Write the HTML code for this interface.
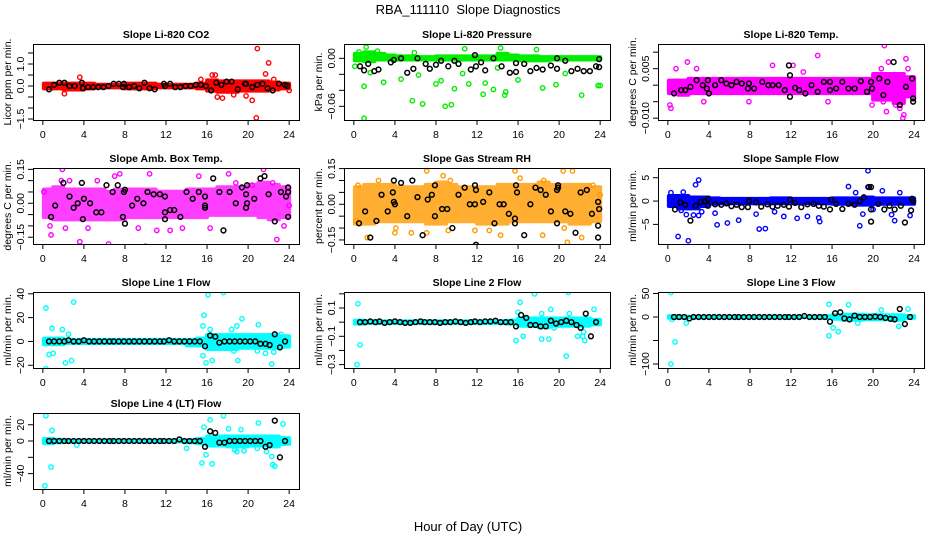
<!DOCTYPE html>
<html><head><meta charset="utf-8"><style>
html,body{margin:0;padding:0;background:#fff;}
svg{display:block;font-family:"Liberation Sans",Arial,sans-serif;}
</style></head><body>
<svg id="chart" width="936" height="540" viewBox="0 0 936 540" xmlns="http://www.w3.org/2000/svg">
<text x="468" y="14" text-anchor="middle" font-size="13">RBA_111110&#160; Slope Diagnostics</text>
<text x="468" y="531" text-anchor="middle" font-size="13">Hour of Day (UTC)</text>
</svg>
<script>
const xTicks=[0,4,8,12,16,20,24];
const hourGrid=[0.6,1.1,1.6,2.1,2.5,3.0,3.5,4.0,4.5,5.0,5.5,6.0,6.5,6.9,7.4,7.9,8.4,8.9,9.4,9.9,10.4,10.9,11.4,11.8,12.3,12.8,13.3,13.8,14.3,14.8,15.3,15.8,16.3,16.8,17.2,17.7,18.2,18.7,19.2,19.7,20.2,20.7,21.2,21.7,22.1,22.6,23.1,23.6];

const co2BandHi=[0.2,0.2,0.2,0.2,0.2,0.15,0.15,0.15,0.2,0.2,0.2,0.15,0.15,0.15,0.15,0.2,0.35,0.3,0.3,0.3,0.3,0.3,0.25,0.2];
const co2BandLo=[-0.2,-0.2,-0.25,-0.25,-0.2,-0.15,-0.15,-0.15,-0.2,-0.2,-0.2,-0.15,-0.15,-0.15,-0.15,-0.2,-0.3,-0.35,-0.35,-0.3,-0.3,-0.3,-0.25,-0.2];
const co2Out=[[2.1,-0.35],[3.6,0.4],[15.4,0.3],[16.5,0.5],[16.8,0.5],[17.0,-0.5],[17.5,-0.55],[18.6,-0.4],[19.8,-0.45],[20.4,-0.65],[20.8,-1.45],[20.9,1.7],[21.7,0.55],[22.0,1.05],[22.5,0.3],[24.0,-0.2]];
const co2Black=[[0.6,-0.15],[1.1,0.05],[1.6,0.15],[2.1,0.15],[2.6,0.0],[3.1,0.0],[3.8,0.15],[3.9,-0.1],[4.4,-0.05],[4.9,-0.05],[5.4,-0.05],[5.9,-0.05],[6.4,0.0],[6.9,0.1],[7.4,0.1],[7.8,-0.05],[7.9,0.1],[8.4,-0.05],[8.9,0.0],[9.4,-0.1],[9.9,0.15],[10.4,-0.1],[10.9,-0.15],[11.8,0.1],[11.9,0.0],[12.4,0.1],[12.9,-0.05],[13.4,-0.05],[13.9,0.0],[14.4,0.0],[14.9,0.05],[15.4,0.05],[15.9,0.0],[16.4,-0.2],[16.9,0.15],[17.4,0.05],[17.9,0.2],[18.4,0.2],[19.0,-0.15],[19.7,0.1],[19.8,0.1],[20.4,-0.05],[20.9,0.05],[21.4,0.1],[21.9,-0.1],[22.4,-0.2],[23.0,0.1],[23.6,0.05],[23.8,0.0]];

const presBandHi=[0.008,0.01,0.008,0.006,0.005,0.005,0.004,0.004,0.005,0.005,0.005,0.005,0.005,0.005,0.008,0.006,0.005,0.005,0.004,0.004,0.004,0.004,0.004,0.004];
const presBandLo=[-0.005,-0.006,-0.004,-0.004,-0.004,-0.004,-0.004,-0.004,-0.004,-0.004,-0.004,-0.004,-0.004,-0.004,-0.004,-0.004,-0.005,-0.005,-0.005,-0.004,-0.004,-0.004,-0.004,-0.004];
const presOut=[[0.1,-0.01],[1.0,-0.035],[1.0,-0.075],[1.6,-0.018],[2.9,-0.03],[4.6,-0.026],[5.7,-0.053],[6.3,-0.021],[6.7,-0.057],[8.0,-0.032],[8.5,-0.028],[8.9,-0.06],[9.5,-0.058],[9.8,-0.038],[10.6,-0.019],[11.2,-0.032],[12.6,-0.045],[12.8,-0.031],[13.6,-0.039],[14.0,-0.012],[14.7,-0.046],[14.8,-0.042],[16.0,-0.027],[18.4,-0.037],[19.7,-0.033],[20.6,-0.019],[22.2,-0.046],[23.8,-0.034],[24.0,-0.034],[0.5,0.008],[2.3,0.009],[5.9,0.007],[10.8,0.012],[14.3,0.013],[17.8,0.011],[1.2,0.014]];
const presBlack=[[0.6,-0.01],[1.0,-0.015],[1.4,-0.007],[2.0,-0.016],[2.4,-0.014],[3.6,-0.005],[3.9,-0.002],[4.6,0.0],[5.2,-0.018],[5.8,-0.013],[6.2,0.0],[7.0,-0.007],[7.4,-0.013],[8.0,-0.008],[8.5,-0.003],[9.2,-0.01],[9.8,-0.003],[10.2,-0.007],[11.4,-0.014],[11.8,0.004],[11.9,-0.01],[12.4,-0.005],[12.8,-0.015],[13.6,0.0],[14.4,-0.01],[15.2,-0.018],[15.8,-0.017],[15.8,-0.006],[16.6,-0.007],[17.2,-0.016],[17.8,-0.012],[18.4,-0.014],[19.2,-0.009],[19.8,-0.013],[19.8,0.0],[20.6,-0.003],[21.2,-0.016],[21.8,-0.013],[22.4,-0.016],[23.0,-0.016],[23.6,-0.01],[23.9,-0.001],[23.9,-0.011]];

const tempBandHi=[0.002,0.002,0.0025,0.0025,0.0025,0.0025,0.0025,0.0025,0.0025,0.0025,0.0025,0.0025,0.0025,0.0025,0.0025,0.0025,0.0025,0.0025,0.0025,0.0025,0.004,0.004,0.004,0.003];
const tempBandLo=[-0.003,-0.0035,-0.003,-0.003,-0.003,-0.003,-0.003,-0.003,-0.003,-0.003,-0.003,-0.003,-0.003,-0.003,-0.003,-0.003,-0.003,-0.003,-0.003,-0.003,-0.005,-0.005,-0.006,-0.004];
const tempOut=[[0.2,-0.006],[0.3,-0.007],[0.8,0.005],[1.9,0.007],[2.8,0.005],[3.5,-0.005],[7.9,-0.005],[10.2,0.006],[12.2,0.006],[13.2,0.004],[14.6,0.009],[15.6,-0.005],[19.9,-0.006],[20.8,0.005],[21.1,0.012],[21.3,-0.008],[21.5,0.007],[22.2,-0.006],[22.6,-0.007],[22.9,-0.01],[23.0,-0.009],[23.2,0.008],[23.4,0.005],[21.0,-0.005]];
const tempBlack=[[0.6,-0.0025],[1.3,-0.0015],[1.7,-0.0015],[2.2,-0.0005],[2.8,0.0015],[3.4,0.0],[3.8,-0.001],[3.9,0.0015],[4.0,-0.0025],[4.6,0.0],[5.2,0.0015],[5.7,0.0005],[6.2,0.0],[6.7,0.001],[7.2,0.0005],[7.8,-0.001],[7.9,0.0005],[8.4,-0.001],[9.2,0.001],[9.8,0.0],[10.2,0.0],[10.8,0.0],[11.4,-0.0015],[11.8,0.006],[11.9,-0.0035],[11.9,0.003],[12.4,-0.0008],[12.8,-0.0015],[13.4,-0.0025],[14.0,0.0],[14.6,-0.002],[15.2,0.001],[15.8,-0.0015],[15.8,0.001],[16.4,-0.001],[17.0,0.001],[17.6,-0.001],[18.2,-0.001],[18.8,0.0012],[19.4,-0.002],[19.8,0.001],[19.9,-0.001],[20.6,0.002],[21.0,-0.003],[21.4,0.001],[22.0,0.007],[22.6,-0.006],[23.2,-0.0005],[23.8,0.002],[23.9,-0.004],[23.9,-0.005]];

const ambBandHi=[0.07,0.08,0.07,0.07,0.07,0.07,0.06,0.07,0.07,0.07,0.07,0.06,0.06,0.06,0.07,0.07,0.07,0.08,0.08,0.08,0.09,0.1,0.09,0.08];
const ambBandLo=[-0.07,-0.08,-0.08,-0.08,-0.08,-0.08,-0.08,-0.08,-0.07,-0.07,-0.07,-0.07,-0.07,-0.07,-0.07,-0.07,-0.06,-0.06,-0.06,-0.06,-0.06,-0.07,-0.08,-0.07];
const ambOut=[[0.7,-0.1],[0.8,-0.14],[1.8,0.1],[1.9,0.15],[2.2,-0.11],[3.6,-0.17],[4.4,-0.11],[5.3,0.1],[5.6,-0.2],[6.4,-0.18],[7.0,0.12],[7.2,-0.24],[7.5,0.13],[9.3,-0.11],[10.0,-0.19],[10.4,0.13],[11.1,-0.12],[12.4,-0.12],[13.6,-0.11],[15.2,0.12],[16.3,-0.11],[18.1,0.13],[18.8,0.09],[20.4,0.08],[21.5,0.15],[22.4,0.09],[22.8,-0.16],[23.5,-0.1],[24.0,-0.01],[0.1,0.05],[2.6,0.1]];
const ambBlack=[[0.8,-0.06],[1.2,-0.01],[2.0,0.09],[2.6,0.03],[3.0,-0.02],[3.4,0.0],[3.8,0.09],[3.9,-0.07],[4.0,0.02],[4.6,0.0],[5.2,-0.04],[5.7,-0.04],[6.2,0.08],[6.8,0.05],[7.3,0.08],[7.8,-0.06],[7.9,0.05],[8.0,0.06],[8.0,-0.09],[8.7,-0.01],[9.2,0.02],[9.8,0.0],[10.2,0.05],[10.8,0.04],[11.4,0.04],[11.9,0.03],[11.9,-0.04],[11.9,-0.07],[12.4,-0.03],[12.8,-0.03],[13.4,-0.06],[14.0,0.05],[14.6,0.02],[15.2,0.05],[15.8,0.03],[15.8,-0.01],[15.8,-0.02],[16.6,0.11],[17.2,0.05],[17.6,-0.12],[18.2,0.05],[18.8,0.0],[19.4,0.07],[19.9,0.08],[19.8,0.04],[19.9,0.0],[19.8,-0.02],[20.6,0.02],[21.2,0.11],[21.6,0.12],[22.0,0.04],[22.6,-0.08],[23.2,0.05],[23.7,0.03],[23.9,0.07],[23.9,-0.06],[23.9,0.05]];

const rhBandHi=[0.08,0.09,0.09,0.09,0.08,0.08,0.08,0.09,0.1,0.09,0.08,0.08,0.08,0.08,0.09,0.09,0.09,0.09,0.1,0.09,0.09,0.09,0.09,0.08];
const rhBandLo=[-0.09,-0.09,-0.08,-0.08,-0.08,-0.08,-0.08,-0.09,-0.09,-0.08,-0.08,-0.08,-0.09,-0.09,-0.09,-0.08,-0.08,-0.08,-0.08,-0.08,-0.08,-0.09,-0.09,-0.08];
const rhOut=[[1.3,-0.14],[2.4,0.1],[4.0,-0.12],[4.1,-0.1],[5.6,-0.12],[7.1,0.14],[7.1,-0.12],[8.7,0.12],[9.4,0.1],[9.2,-0.11],[11.8,-0.11],[13.2,-0.11],[14.3,-0.13],[15.7,0.14],[16.2,0.11],[18.4,-0.13],[18.5,0.1],[20.4,0.14],[20.5,-0.1],[20.8,-0.16],[21.3,0.14],[22.2,-0.14],[23.3,0.08],[24.0,0.04],[0.2,-0.07],[0.4,0.08]];
const rhBlack=[[0.5,-0.08],[1.1,-0.03],[1.6,-0.14],[2.2,-0.07],[2.7,0.04],[3.3,-0.03],[3.8,0.05],[3.9,0.01],[4.0,0.0],[3.9,0.1],[4.6,0.09],[5.2,-0.05],[5.7,0.1],[6.2,0.03],[6.7,-0.13],[7.2,0.02],[7.6,0.04],[7.9,-0.05],[7.9,0.08],[8.6,-0.02],[9.1,-0.02],[9.6,-0.1],[10.2,0.04],[10.8,0.07],[11.3,0.0],[11.8,0.08],[11.8,0.0],[11.9,0.06],[11.9,-0.17],[12.6,0.01],[13.2,0.05],[13.7,-0.08],[14.2,0.0],[14.6,0.0],[15.1,-0.04],[15.7,-0.06],[15.7,-0.08],[15.8,0.08],[15.9,0.05],[16.6,-0.13],[17.2,0.0],[17.7,0.07],[18.2,0.06],[18.7,0.04],[19.2,-0.03],[19.8,0.06],[19.9,0.07],[19.9,0.08],[19.8,-0.08],[20.6,-0.03],[21.1,-0.04],[21.6,-0.12],[22.1,0.05],[22.7,0.06],[23.2,-0.04],[23.8,0.01],[23.8,-0.09],[23.8,-0.14],[23.9,-0.02]];

const flowBandHi=[1.5,1.5,1.2,1.2,1.0,0.9,0.9,0.9,0.9,0.9,1.0,1.0,0.9,0.9,0.9,0.9,1.0,1.0,1.0,1.2,1.0,1.0,1.0,1.0];
const flowBandLo=[-1.5,-2.0,-2.0,-1.5,-1.0,-0.9,-0.9,-0.9,-0.9,-0.9,-0.9,-0.9,-0.9,-0.9,-0.9,-0.9,-1.0,-1.0,-1.2,-1.2,-1.0,-1.0,-1.0,-1.0];
const flowOut=[[0.3,1.8],[1.0,-7.6],[1.3,-2.0],[1.5,1.9],[1.8,-2.9],[2.0,-8.5],[2.5,-3.0],[2.7,3.5],[3.0,4.5],[3.0,-3.1],[3.3,-2.3],[4.6,-2.6],[4.8,-5.1],[5.8,-4.7],[6.9,-4.1],[8.6,-2.8],[8.9,-6.0],[9.5,-5.9],[10.4,-2.3],[11.3,-3.3],[12.6,-3.7],[13.6,-3.3],[14.7,-3.6],[14.8,-4.4],[17.6,3.1],[18.3,1.8],[18.7,-5.3],[19.0,-2.8],[19.5,6.5],[19.5,3.0],[20.0,-1.8],[20.9,2.2],[21.8,-2.9],[22.1,-4.2],[22.6,1.8],[23.6,-3.1]];
const flowBlack=[[0.7,-1.8],[1.2,-0.3],[1.7,-0.8],[2.2,-4.2],[2.7,-1.0],[3.2,-0.2],[3.6,0.0],[3.9,-1.0],[3.9,0.4],[4.6,-0.7],[5.2,-0.8],[5.7,-0.5],[6.2,-1.1],[6.7,-0.8],[7.2,-1.3],[7.8,-1.3],[7.9,0.0],[8.6,-0.3],[9.1,-1.2],[9.7,-0.7],[10.2,-1.2],[10.7,-1.0],[11.3,-0.8],[11.8,-1.2],[11.9,0.3],[12.4,-0.4],[13.0,-1.3],[13.6,-0.7],[14.2,-0.6],[14.7,-1.0],[15.2,-1.2],[15.8,-1.8],[15.9,0.3],[16.4,-0.6],[17.0,-1.7],[17.6,-0.6],[18.2,-0.8],[18.7,0.0],[19.1,0.8],[19.6,3.0],[19.8,3.0],[19.8,-1.8],[19.8,-4.4],[20.5,-0.6],[21.1,-1.8],[21.6,-1.0],[22.1,-1.8],[22.7,-1.0],[23.1,-4.6],[23.7,-2.0],[23.8,0.5],[23.9,0.0]];

const line1BandHi=[4,4,3,3,3,3,3,3,3,3,3,3,3,3,3,4,7,7,7,7,7,7,7,6];
const line1BandLo=[-4,-4,-3,-3,-3,-3,-3,-3,-3,-3,-3,-3,-3,-3,-5,-5,-8,-8,-8,-7,-7,-7,-7,-6];
const line1Out=[[0.3,28],[0.3,-23],[0.6,-11],[0.9,11],[1.0,-10],[1.9,10],[2.2,-18],[2.5,6],[2.8,-16],[3.0,33],[15.7,22],[15.6,13],[15.6,-12],[15.9,-18],[16.1,39],[16.3,10],[16.5,-16],[17.6,41],[18.4,10],[18.6,-8],[18.9,13],[19.0,-16],[19.4,19],[19.8,-4],[20.9,-8],[21.0,14],[21.7,-10],[22.3,-19],[22.5,-9],[23.2,6]];
const line1Black=[0,0,0,0,1,0,0,1,0,0,0,0,0,0,0,0,0,0,0,0,0,0,0,0,1,0,0,0,0,0,0,-4,5,4,-1,0,0,0,0,0,0,0,-2,-2,-3,6,-5,0];

const line2BandHi=[0.025,0.02,0.02,0.02,0.02,0.02,0.02,0.02,0.02,0.02,0.02,0.02,0.02,0.02,0.02,0.025,0.04,0.04,0.04,0.04,0.04,0.04,0.04,0.03];
const line2BandLo=[-0.025,-0.02,-0.02,-0.02,-0.02,-0.02,-0.02,-0.02,-0.02,-0.02,-0.02,-0.02,-0.02,-0.02,-0.02,-0.025,-0.04,-0.04,-0.05,-0.04,-0.04,-0.04,-0.04,-0.03];
const line2Out=[[0.3,-0.3],[0.4,0.13],[0.6,-0.16],[15.8,-0.13],[16.2,0.14],[16.5,-0.1],[17.6,0.2],[18.3,0.06],[18.3,-0.12],[19.2,0.09],[19.0,-0.12],[20.7,-0.24],[20.9,0.21],[21.0,0.06],[21.8,-0.1],[22.3,-0.1],[22.4,-0.07],[22.5,-0.13],[23.4,0.09],[16.0,0.07],[19.5,-0.04]];
const line2Black=[0.0,0.0,0.005,0.0,0.005,-0.005,0.0,0.005,0.0,-0.005,-0.005,0.0,0.005,0.0,0.0,0.0,-0.005,0.0,0.0,0.005,0.0,-0.005,0.0,0.005,0.0,0.005,0.005,0.01,0.0,0.0,0.0,-0.03,0.05,0.03,-0.02,-0.02,-0.03,-0.03,0.01,-0.01,0.0,0.01,0.0,-0.02,-0.04,0.06,-0.1,0.0];

const line3BandHi=[6,5,4,4,4,4,4,4,4,4,4,4,4,4,4,6,8,9,9,8,8,8,8,6];
const line3BandLo=[-6,-5,-4,-4,-4,-4,-4,-4,-4,-4,-4,-4,-4,-4,-4,-6,-8,-10,-10,-9,-9,-9,-10,-6];
const line3Out=[[0.3,52],[0.3,-100],[0.7,-53],[1.8,-13],[15.7,27],[15.7,-40],[16.1,-23],[16.6,-31],[17.6,26],[20.8,15],[22.5,-20],[23.4,17],[18.5,-13],[0.4,-5]];
const line3Black=[0,0,0,-3,0,0,0,0,0,0,0,0,0,0,0,0,0,0,0,0,0,0,0,0,0,0,2,0,0,0,0,-10,8,10,-3,-5,3,0,0,0,1,0,-2,-4,-5,17,-15,0];

const line4BandHi=[5,4,3,3,3,3,3,3,3,3,3,3,3,3,3,5,8,8,8,8,8,8,8,6];
const line4BandLo=[-5,-4,-3,-3,-3,-3,-3,-3,-3,-3,-3,-3,-3,-3,-4,-5,-8,-8,-9,-9,-8,-8,-9,-6];
const line4Out=[[0.3,31],[0.2,-55],[0.8,-32],[0.9,13],[15.5,-27],[15.7,17],[15.9,-17],[16.3,26],[16.5,-28],[17.6,31],[18.1,15],[18.7,-11],[18.9,-13],[19.3,14],[19.6,-12],[20.9,-9],[21.0,22],[21.8,-13],[22.3,-19],[22.4,-29],[22.6,-31],[23.4,21],[3.3,-5],[14.0,-9]];
const line4Black=[0,0,0,0,0,0,0,0,0,0,0,0,0,0,0,0,0,0,0,0,0,0,0,0,0,0,2,0,0,0,0,-7,12,10,-2,-2,0,0,0,0,0,0,0,-7,-5,25,-20,0];

const NS="http://www.w3.org/2000/svg";
const svg=document.getElementById('chart');
function mk(tag,attrs,parent){const e=document.createElementNS(NS,tag);for(const k in attrs)e.setAttribute(k,attrs[k]);(parent||svg).appendChild(e);return e;}
function gridPairs(vals){return vals.map((v,i)=>[hourGrid[i],v]);}

const panels=[
 {key:'co2',title:'Slope Li-820 CO2',ylab:'Licor ppm per min.',col:0,row:0,y0:1.91,y1:-1.545,ticks:[-1.5,-1,-0.5,0,0.5,1,1.5],labels:{'1':'1.0','0':'0.0','-1.5':'\u22121.5'},color:'#ff0000',hi:co2BandHi,lo:co2BandLo,out:co2Out,black:co2Black},
 {key:'pressure',title:'Slope Li-820 Pressure',ylab:'kPa per min.',col:1,row:0,y0:0.0179,y1:-0.0771,ticks:[-0.06,-0.04,-0.02,0],labels:{'0':'0.00','-0.06':'\u22120.06'},color:'#00ee00',hi:presBandHi,lo:presBandLo,out:presOut,black:presBlack},
 {key:'temp',title:'Slope Li-820 Temp.',ylab:'degrees C per min.',col:2,row:0,y0:0.01248,y1:-0.01055,ticks:[-0.01,-0.005,0,0.005,0.01],labels:{'0.005':'0.005','-0.01':'\u22120.010'},color:'#ff00ff',hi:tempBandHi,lo:tempBandLo,out:tempOut,black:tempBlack},
 {key:'amb',title:'Slope Amb. Box Temp.',ylab:'degrees C per min.',col:0,row:1,y0:0.156,y1:-0.18,ticks:[-0.15,-0.1,-0.05,0,0.05,0.1,0.15],labels:{'0.15':'0.15','0':'0.00','-0.15':'\u22120.15'},color:'#ff00ff',hi:ambBandHi,lo:ambBandLo,out:ambOut,black:ambBlack,op:0.75},
 {key:'rh',title:'Slope Gas Stream RH',ylab:'percent per min.',col:1,row:1,y0:0.1525,y1:-0.167,ticks:[-0.15,-0.1,-0.05,0,0.05,0.1,0.15],labels:{'0.15':'0.15','0':'0.00','-0.15':'\u22120.15'},color:'#ff9a00',hi:rhBandHi,lo:rhBandLo,out:rhOut,black:rhBlack,op:0.8},
 {key:'sample-flow',title:'Slope Sample Flow',ylab:'ml/min per min.',col:2,row:1,y0:7.08,y1:-9.2,ticks:[-5,0,5],labels:{'5':'5','0':'0','-5':'\u22125'},color:'#0000ff',hi:flowBandHi,lo:flowBandLo,out:flowOut,black:flowBlack},
 {key:'line1',title:'Slope Line 1 Flow',ylab:'ml/min per min.',col:0,row:2,y0:41.5,y1:-22.3,ticks:[-20,0,20,40],labels:{'40':'40','20':'20','0':'0','-20':'\u221220'},color:'#00ffff',hi:line1BandHi,lo:line1BandLo,out:line1Out,black:gridPairs(line1Black)},
 {key:'line2',title:'Slope Line 2 Flow',ylab:'ml/min per min.',col:1,row:2,y0:0.213,y1:-0.324,ticks:[-0.3,-0.2,-0.1,0,0.1,0.2],labels:{'0.1':'0.1','-0.1':'\u22120.1','-0.3':'\u22120.3'},color:'#00ffff',hi:line2BandHi,lo:line2BandLo,out:line2Out,black:gridPairs(line2Black)},
 {key:'line3',title:'Slope Line 3 Flow',ylab:'ml/min per min.',col:2,row:2,y0:53.2,y1:-108.5,ticks:[-100,-50,0,50],labels:{'50':'50','0':'0','-100':'\u2212100'},color:'#00ffff',hi:line3BandHi,lo:line3BandLo,out:line3Out,black:gridPairs(line3Black)},
 {key:'line4',title:'Slope Line 4 (LT) Flow',ylab:'ml/min per min.',col:0,row:3,y0:34.4,y1:-58.9,ticks:[-40,-20,0,20],labels:{'20':'20','0':'0','-40':'\u221240'},color:'#00ffff',hi:line4BandHi,lo:line4BandLo,out:line4Out,black:gridPairs(line4Black)}
];
const colL=[33,344,658], rowT=[44,168,292,413], W=266, H=76;

panels.forEach(p=>{
  const L=colL[p.col], T=rowT[p.row], B=T+H, R=L+W;
  const g=mk('g',{});
  
  
  const xs=v=>L+(v+0.96)/25.92*W;
  const ys=v=>T+(p.y0-v)/(p.y0-p.y1)*H;
  const clipId='clip-'+p.key;
  const cp=mk('clipPath',{id:clipId},g); mk('rect',{x:L,y:T,width:W,height:H},cp);
  const data=mk('g',{'clip-path':'url(#'+clipId+')'},g);
  const bandG=mk('g',{opacity:p.op||1},data);
  p.hi.forEach((h,i)=>{
    const x0=Math.max(0.1,i), x1=Math.min(24,i+1);
    const r=mk('rect',{x:xs(x0)-2,y:ys(h),width:xs(x1)-xs(x0)+4,height:ys(p.lo[i])-ys(h),fill:p.color,rx:2},bandG);
    
    
  });
  p.out.forEach(d=>{
    const c=mk('circle',{cx:xs(d[0]),cy:ys(d[1]),r:2.2,fill:'none',stroke:p.color,'stroke-width':1.4},data);
    
    
  });
  p.black.forEach(d=>{
    const c=mk('circle',{cx:xs(d[0]),cy:ys(d[1]),r:2.4,fill:'none',stroke:'#000','stroke-width':1.5},data);
    
    
  });
  const box=mk('rect',{x:L+0.5,y:T+0.5,width:W,height:H,fill:'none',stroke:'#000','stroke-width':1},g);
  
  
  xTicks.forEach(t=>{
    mk('line',{x1:xs(t),x2:xs(t),y1:B,y2:B+5,stroke:'#000'},g);
    const tx=mk('text',{x:xs(t),y:B+18,'text-anchor':'middle','font-size':10.5},g);
    tx.textContent=t;
    
    
  });
  p.ticks.forEach(t=>{
    const y=ys(t);
    mk('line',{x1:L-5,x2:L,y1:y,y2:y,stroke:'#000'},g);
    const lab=p.labels[String(t)];
    if(lab!==undefined){
      const tx=mk('text',{x:0,y:0,transform:'translate('+(L-9)+','+y+') rotate(-90)','text-anchor':'middle','font-size':10.5},g);
      tx.textContent=lab;
      
      
    }
  });
  const ti=mk('text',{x:(L+R)/2,y:T-6,'text-anchor':'middle','font-size':10.5,'font-weight':'bold'},g);
  ti.textContent=p.title;
  
  
  const yl=mk('text',{x:0,y:0,transform:'translate('+(L-22)+','+(T+H/2)+') rotate(-90)','text-anchor':'middle','font-size':10.5},g);
  yl.textContent=p.ylab;
  
  
});
</script>
</body></html>
